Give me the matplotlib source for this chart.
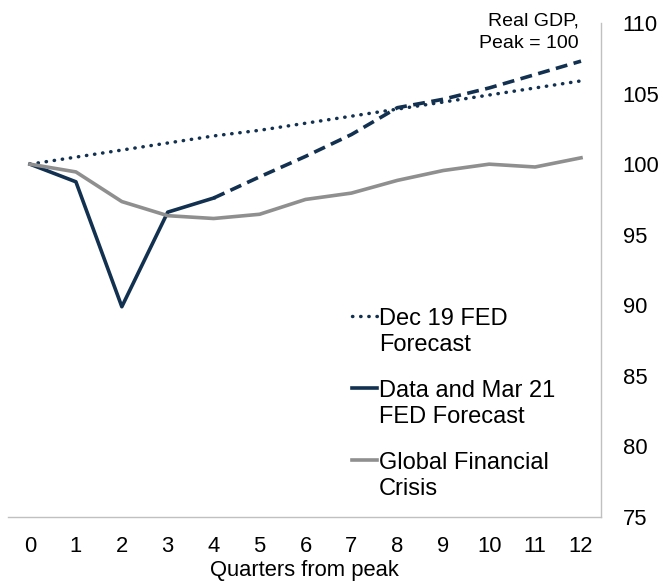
import matplotlib.pyplot as plt

plt.rcParams['font.family'] = ['Liberation Sans', 'DejaVu Sans']

# Quarters from peak
quarters = list(range(13))

# Real GDP indexed to peak = 100
dec19_forecast = [100, 100.5, 101.0, 101.5, 102.0, 102.4, 102.9, 103.4, 103.9, 104.4, 104.9, 105.4, 105.9]
mar21_data = [100, 98.75, 89.9, 96.6, 97.6]
mar21_forecast = [97.6, 99.1, 100.55, 102.1, 104.0, 104.6, 105.4, 106.35, 107.3]
gfc = [100, 99.45, 97.35, 96.35, 96.15, 96.45, 97.5, 97.95, 98.85, 99.55, 100.0, 99.8, 100.45]

yticks = [75, 80, 85, 90, 95, 100, 105, 110]

navy = '#12304f'
grey = '#8f8f8f'

fig = plt.figure(figsize=(6.64, 5.83), dpi=100)
ax = fig.add_axes([0.0128, 0.1132, 0.8923, 0.8473])

ax.plot(quarters, dec19_forecast, color=navy, lw=2.5, linestyle=(0, (0.1, 2.25)),
        dash_capstyle='round', label='Dec 19 FED\nForecast')
ax.plot(quarters[:5], mar21_data, color=navy, lw=2.6,
        label='Data and Mar 21\nFED Forecast')
ax.plot(quarters[4:], mar21_forecast, color=navy, lw=2.6, linestyle=(0, (3.3, 1.8)))
ax.plot(quarters, gfc, color=grey, lw=2.6, label='Global Financial\nCrisis')

ax.set_xlim(-0.468, 12.435)
ax.set_ylim(75, 110)
ax.set_xticks(quarters)
ax.set_yticks(yticks)
ax.yaxis.tick_right()
ax.tick_params(length=0, labelsize=15.8, colors='black')
ax.tick_params(axis='x', pad=13.5)
ax.tick_params(axis='y', pad=15.5)

for side in ['top', 'left']:
    ax.spines[side].set_visible(False)
for side in ['bottom', 'right']:
    ax.spines[side].set_color('#c0c0c0')
    ax.spines[side].set_linewidth(1)

ax.set_xlabel('Quarters from peak', fontsize=15.8, labelpad=2.5)

fig.text(579 / 664, 1 - 13 / 583, 'Real GDP,\nPeak = 100', ha='right', va='top',
         fontsize=14, linespacing=1.35)

leg = ax.legend(loc='upper left', bbox_to_anchor=(352 / 664, 1 - 308 / 583),
                bbox_transform=fig.transFigure, frameon=False,
                fontsize=17, handlelength=1.05, handletextpad=0.08,
                labelspacing=1.0, borderpad=0, borderaxespad=0)
for t in leg.get_texts():
    t.set_linespacing(1.25)
# put each handle next to the first line of its label
for column in leg._legend_handle_box.get_children():
    for item in column.get_children():
        item.align = 'top'

fig.savefig('out.png', dpi=100)
